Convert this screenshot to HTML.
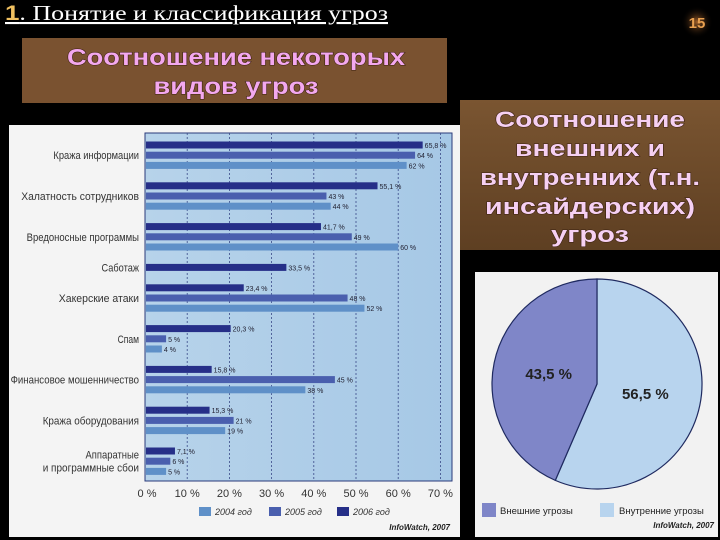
<!DOCTYPE html>
<html><head><meta charset="utf-8"><style>
html,body{margin:0;padding:0;background:#000;}
svg{display:block;}
text{font-family:"Liberation Sans","DejaVu Sans",sans-serif;}
</style></head><body>
<svg id="s" width="720" height="540" viewBox="0 0 720 540" xmlns="http://www.w3.org/2000/svg">
<defs>
<linearGradient id="plotbg" x1="0" y1="0" x2="1" y2="0">
<stop offset="0" stop-color="#b7d3ea"/><stop offset="1" stop-color="#a6c8e6"/></linearGradient>
<linearGradient id="rbox" x1="0" y1="0" x2="0" y2="1">
<stop offset="0" stop-color="#7a5531"/><stop offset="1" stop-color="#5e3f22"/></linearGradient>
<radialGradient id="glow"><stop offset="0" stop-color="#a0602a"/><stop offset="1" stop-color="#000" stop-opacity="0"/></radialGradient>
</defs>
<rect width="720" height="540" fill="#000"/>
<text x="5" y="20" font-size="21" fill="#fff" text-decoration="underline" textLength="383" lengthAdjust="spacingAndGlyphs" style="font-family:'Liberation Serif',serif"><tspan fill="#f0c060" font-weight="bold" style="font-family:'Liberation Sans',sans-serif">1</tspan>. Понятие и классификация угроз</text>
<circle cx="697" cy="22" r="16" fill="url(#glow)"/>
<text x="697" y="28" text-anchor="middle" font-size="15" font-weight="bold" fill="#e8a050">15</text>

<rect x="22" y="38" width="425" height="65" fill="#7a5230"/>
<g font-size="23" font-weight="bold" fill="#f3a8ee" text-anchor="middle" style="paint-order:stroke" stroke="#3a2010" stroke-width="1">
<text x="236" y="65" textLength="338" lengthAdjust="spacingAndGlyphs">Соотношение некоторых</text>
<text x="236" y="94" textLength="165" lengthAdjust="spacingAndGlyphs">видов угроз</text></g>

<rect x="460" y="100" width="260" height="150" fill="url(#rbox)"/>
<g font-size="22" font-weight="bold" fill="#f6d0f2" text-anchor="middle" style="paint-order:stroke" stroke="#3a2010" stroke-width="1">
<text x="590" y="127" textLength="190" lengthAdjust="spacingAndGlyphs">Соотношение</text>
<text x="590" y="156" textLength="150" lengthAdjust="spacingAndGlyphs">внешних и</text>
<text x="590" y="185" textLength="220" lengthAdjust="spacingAndGlyphs">внутренних (т.н.</text>
<text x="590" y="214" textLength="210" lengthAdjust="spacingAndGlyphs">инсайдерских)</text>
<text x="590" y="242" textLength="78" lengthAdjust="spacingAndGlyphs">угроз</text></g>

<rect x="9" y="125" width="451" height="412" fill="#f4f4f4"/>
<rect x="145" y="133" width="307" height="348" fill="url(#plotbg)" stroke="#2a3a7a" stroke-width="1"/>
<g id="grid"></g><g id="bars"></g><g id="labels"></g>
<g id="legend"></g>
<text x="450" y="530" text-anchor="end" font-size="8" font-style="italic" font-weight="bold" fill="#222">InfoWatch, 2007</text>

<rect x="475" y="272" width="243" height="265" fill="#f2f2f2"/>
<g id="pie"></g>
<rect x="482" y="503" width="14" height="14" fill="#7f86c8"/>
<text x="500" y="514" font-size="9.5" fill="#222">Внешние угрозы</text>
<rect x="600" y="503" width="14" height="14" fill="#b8d4ee"/>
<text x="619" y="514" font-size="9.5" fill="#222">Внутренние угрозы</text>
<text x="714" y="528" text-anchor="end" font-size="8" font-style="italic" font-weight="bold" fill="#222">InfoWatch, 2007</text>
</svg>
<script>
const categories=["Кража информации","Халатность сотрудников","Вредоносные программы","Саботаж","Хакерские атаки","Спам","Финансовое мошенничество","Кража оборудования","Аппаратные|и программные сбои"];
const v2006=[65.8,55.1,41.7,33.5,23.4,20.3,15.8,15.3,7.1];
const v2005=[64,43,49,null,48,5,45,21,6];
const v2004=[62,44,60,null,52,4,38,19,5];
const ticks=[0,10,20,30,40,50,60,70];
const tickLabels=["0 %","10 %","20 %","30 %","40 %","50 %","60 %","70 %"];
const seriesNames=["2004 год","2005 год","2006 год"];
const pieValues=[56.5,43.5];
const pieLabels=["56,5 %","43,5 %"];

const NS="http://www.w3.org/2000/svg";
function mk(tag,attrs,parent,txt){const e=document.createElementNS(NS,tag);for(const k in attrs)e.setAttribute(k,attrs[k]);if(txt!=null)e.textContent=txt;parent.appendChild(e);return e;}
const x0=145,pxPer=4.22;
const xs=v=>x0+v*pxPer;
const barStep=10.2,groupGap=10.2;
const grid=document.getElementById('grid'),bars=document.getElementById('bars'),labels=document.getElementById('labels'),legend=document.getElementById('legend');
ticks.forEach((t,i)=>{
 if(i>0){const l=mk('line',{x1:xs(t),x2:xs(t),y1:133,y2:481,stroke:'#3a4a88','stroke-width':0.8,'stroke-dasharray':'2,2'},grid);
 
 }
 const tl=mk('text',{x:xs(t)+(i==0?2:0),y:497,'text-anchor':'middle','font-size':11,fill:'#333'},labels,tickLabels[i]);
 
 
});
const colors={v2006:'#262f88',v2005:'#4a5fae',v2004:'#5f90c8'};
const series=[["v2006",v2006],["v2005",v2005],["v2004",v2004]];
let gy=145;
categories.forEach((c,i)=>{
 const present=series.filter(([k,a])=>a[i]!=null);
 const n=present.length;
 const mid=gy+(n-1)*barStep/2;
 const parts=c.split('|');
 parts.forEach((p,k)=>{
  const t=mk('text',{x:139,y:mid+4+(parts.length>1?(k-0.5)*13:0),'text-anchor':'end','font-size':11,fill:'#333'},labels,p);
  
  
  t.setAttribute('textLength',p.length*5.35);
  t.setAttribute('lengthAdjust','spacingAndGlyphs');
 });
 present.forEach(([key,arr],j)=>{
  const v=arr[i];
  const cy=gy+j*barStep;
  const r=mk('rect',{x:x0+1,y:cy-3.5,width:xs(v)-x0-1,height:7,fill:colors[key]},bars);
  
  
  const lt=mk('text',{x:xs(v)+2,y:cy+3,'font-size':7,fill:'#223'},labels,String(v).replace('.',',')+' %');
  
  
 });
 gy+=n*barStep+groupGap;
});
const lcols=[colors.v2004,colors.v2005,colors.v2006],lx=[199,269,337];
seriesNames.forEach((n,i)=>{
 const r=mk('rect',{x:lx[i],y:507,width:12,height:9,fill:lcols[i]},legend);
 
 
 const t=mk('text',{x:lx[i]+16,y:515,'font-size':9,'font-style':'italic',fill:'#333'},legend,n);
 
 
});
const pie=document.getElementById('pie');
const cx=597,cy=384,R=105;const pcols=['#b8d4ee','#7f86c8'];
const total=pieValues.reduce((a,b)=>a+b,0);let a0=-Math.PI/2;
pieValues.forEach((v,i)=>{
 const a1=a0+v/total*2*Math.PI;
 const large=(a1-a0)>Math.PI?1:0;
 const d=`M${cx},${cy} L${cx+R*Math.cos(a0)},${cy+R*Math.sin(a0)} A${R},${R} 0 ${large} 1 ${cx+R*Math.cos(a1)},${cy+R*Math.sin(a1)} Z`;
 const p=mk('path',{d:d,fill:pcols[i],stroke:'#1f2a60','stroke-width':1.2},pie);
 
 
 const am=(a0+a1)/2;
 const t=mk('text',{x:cx+R*0.47*Math.cos(am),y:cy+R*0.47*Math.sin(am)+5,'text-anchor':'middle','font-size':15,'font-weight':'bold',fill:'#222'},pie,pieLabels[i]);
 
 
 a0=a1;
});
</script>
</body></html>
